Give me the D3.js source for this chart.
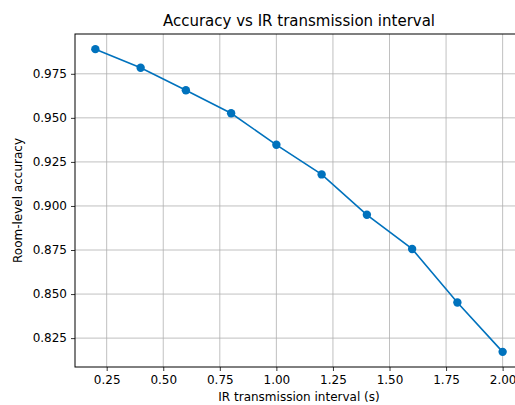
<!DOCTYPE html>
<html>
<head>
<meta charset="utf-8">
<script src="https://cdn.jsdelivr.net/npm/d3@7"></script>
<style>
  body { margin: 0; background: #fff; }
  svg { display: block; font-family: "DejaVu Sans", sans-serif; }
</style>
</head>
<body>
<svg id="chart"></svg>
<script>
// interval in seconds vs room-level accuracy
const intervals = [0.2, 0.4, 0.6, 0.8, 1.0, 1.2, 1.4, 1.6, 1.8, 2.0];
const accuracy = [0.989, 0.9784, 0.9657, 0.9526, 0.9347, 0.9179, 0.895, 0.8756, 0.8452, 0.8172];
const xTicks = [0.25, 0.5, 0.75, 1.0, 1.25, 1.5, 1.75, 2.0];
const yTicks = [0.825, 0.85, 0.875, 0.9, 0.925, 0.95, 0.975];

var width = 515, height = 405;
var margin = {top: 34, left: 75, bottom: 38};
var plotRight = 523; // figure is cropped on the right

var svg = d3.select('#chart')
  .attr('width', width)
  .attr('height', height);

var data = intervals.map((d, i) => ({x: d, y: accuracy[i]}));

// matplotlib-style 5% margins
var xPad = (d3.max(intervals) - d3.min(intervals)) * 0.05;
var yPad = (d3.max(accuracy) - d3.min(accuracy)) * 0.05;

var x = d3.scaleLinear()
  .domain([d3.min(intervals) - xPad, d3.max(intervals) + xPad])
  .range([margin.left, plotRight]);

var y = d3.scaleLinear()
  .domain([d3.min(accuracy) - yPad, d3.max(accuracy) + yPad])
  .range([height - margin.bottom, margin.top]);

var bottom = height - margin.bottom;

// grid
svg.append('g').selectAll('line')
  .data(xTicks)
  .enter().append('line')
  .attr('x1', d => x(d)).attr('x2', d => x(d))
  .attr('y1', margin.top).attr('y2', bottom)
  .attr('stroke', '#b0b0b0').attr('stroke-width', 0.8);

svg.append('g').selectAll('line')
  .data(yTicks)
  .enter().append('line')
  .attr('x1', margin.left).attr('x2', plotRight)
  .attr('y1', d => y(d)).attr('y2', d => y(d))
  .attr('stroke', '#b0b0b0').attr('stroke-width', 0.8);

// axes
var xAxis = d3.axisBottom(x).tickValues(xTicks).tickFormat(d3.format('.2f')).tickSizeOuter(0).tickSize(4).tickPadding(4);
var yAxis = d3.axisLeft(y).tickValues(yTicks).tickFormat(d3.format('.3f')).tickSizeOuter(0).tickSize(4).tickPadding(4);

var gx = svg.append('g')
  .attr('transform', `translate(0, ${ bottom })`)
  .call(xAxis);
var gy = svg.append('g')
  .attr('transform', `translate(${ margin.left }, 0)`)
  .call(yAxis);

[gx, gy].forEach(g => {
  g.select('.domain').remove();
  g.selectAll('.tick line').attr('stroke', '#000').attr('stroke-width', 0.8);
  g.selectAll('.tick text')
    .attr('fill', '#000')
    .style('font-size', '12px')
    .style('font-family', '"DejaVu Sans", sans-serif');
});

// spines (left, top, bottom; right is off-canvas)
svg.append('rect')
  .attr('x', margin.left).attr('y', margin.top)
  .attr('width', plotRight - margin.left)
  .attr('height', bottom - margin.top)
  .attr('fill', 'none').attr('stroke', '#000').attr('stroke-width', 1);

// line + markers
var color = '#0072bd';
var line = d3.line().x(d => x(d.x)).y(d => y(d.y));

svg.append('path')
  .datum(data)
  .attr('d', line)
  .attr('fill', 'none')
  .attr('stroke', color)
  .attr('stroke-width', 1.6);

svg.append('g').selectAll('circle')
  .data(data)
  .enter().append('circle')
  .attr('cx', d => x(d.x))
  .attr('cy', d => y(d.y))
  .attr('r', 4.2)
  .attr('fill', color);

// texts
var cx = (margin.left + plotRight) / 2;
svg.append('text')
  .attr('x', cx).attr('y', 26)
  .attr('text-anchor', 'middle')
  .style('font-size', '15px')
  .text('Accuracy vs IR transmission interval');

svg.append('text')
  .attr('x', cx).attr('y', 401)
  .attr('text-anchor', 'middle')
  .style('font-size', '12px')
  .text('IR transmission interval (s)');

svg.append('text')
  .attr('transform', `translate(22, ${ (margin.top + bottom) / 2 }) rotate(-90)`)
  .attr('text-anchor', 'middle')
  .style('font-size', '12px')
  .text('Room-level accuracy');
</script>
</body>
</html>
